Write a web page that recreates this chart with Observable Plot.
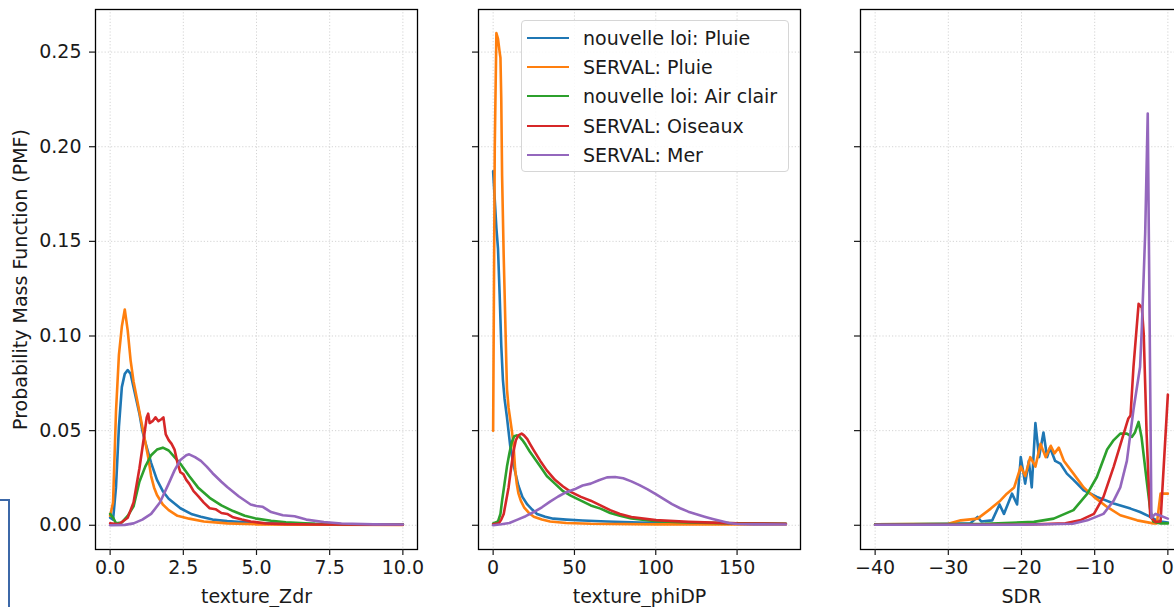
<!DOCTYPE html>
<html><head><meta charset="utf-8">
<script src="https://cdn.jsdelivr.net/npm/d3@7"></script>
<script src="https://cdn.jsdelivr.net/npm/@observablehq/plot@0.6"></script>
<style>
html,body{margin:0;padding:0;background:#fff;overflow:hidden;}
#wrap{position:relative;width:1174px;height:607px;overflow:hidden;font-family:"DejaVu Sans",sans-serif;}
.panel{position:absolute;top:0;}
.panel svg{max-width:none !important;display:block;}
#legend{position:absolute;left:521px;top:20px;width:268px;height:152px;box-sizing:border-box;border:1px solid #d6d6d6;border-radius:4px;background:rgba(255,255,255,0.85);}
.row{position:absolute;left:0;height:28px;font-size:19px;color:#1a1a1a;white-space:nowrap;}
.sw{position:absolute;left:5px;top:13px;width:42px;height:0;border-top:2.6px solid;}
.lab{position:absolute;left:61px;top:2px;line-height:24px;}
#artifact{position:absolute;left:0;top:499px;width:8px;height:130px;border-top:2px solid #3c68a8;border-right:2px solid #3c68a8;}
</style></head><body><div id="wrap"></div>
<script>
// ---------- series names / colours ----------
const seriesNames = ["nouvelle loi: Pluie", "SERVAL: Pluie", "nouvelle loi: Air clair", "SERVAL: Oiseaux", "SERVAL: Mer"];
const seriesColors = ["#1f77b4", "#ff7f0e", "#2ca02c", "#d62728", "#9467bd"];
const yTicks = [0, 0.05, 0.10, 0.15, 0.20, 0.25];
const yLabel = "Probability Mass Function (PMF)";

// ---------- texture_Zdr ----------
const zdrTicks = [0, 2.5, 5, 7.5, 10];
const zdrNouvPluie = [[0,0.004],[0.1,0.003],[0.2,0.02],[0.3,0.052],[0.4,0.073],[0.5,0.08],[0.6,0.082],[0.7,0.08],[0.8,0.073],[0.9,0.066],[1.0,0.059],[1.1,0.05],[1.2,0.044],[1.4,0.033],[1.6,0.024],[1.8,0.018],[2.0,0.014],[2.4,0.009],[2.8,0.0058],[3.1,0.0045],[3.5,0.003],[4,0.0022],[5,0.0012],[6,0.0008],[7,0.0006],[8,0.0005],[10,0.0004]];
const zdrServalPluie = [[0,0.005],[0.1,0.012],[0.2,0.06],[0.3,0.09],[0.4,0.105],[0.5,0.114],[0.6,0.103],[0.7,0.087],[0.8,0.076],[0.9,0.068],[1.0,0.06],[1.1,0.052],[1.2,0.044],[1.3,0.036],[1.4,0.026],[1.5,0.02],[1.6,0.016],[1.8,0.011],[2.0,0.008],[2.3,0.005],[2.7,0.0035],[3.2,0.002],[4,0.001],[5,0.0005],[10,0.0002]];
const zdrNouvAir = [[0,0.006],[0.1,0.004],[0.2,0.001],[0.4,0.0015],[0.6,0.005],[0.8,0.01],[1.0,0.023],[1.2,0.031],[1.4,0.037],[1.6,0.04],[1.8,0.041],[2.0,0.0395],[2.2,0.036],[2.4,0.0325],[2.7,0.026],[3.0,0.02],[3.4,0.0145],[3.8,0.0105],[4.2,0.0075],[4.6,0.005],[5.0,0.0035],[5.5,0.0024],[6.0,0.0016],[7,0.0008],[8,0.0005],[10,0.0004]];
const zdrServalOiseaux = [[0,0.001],[0.3,0.0005],[0.6,0.004],[0.8,0.012],[1.0,0.03],[1.15,0.046],[1.25,0.057],[1.3,0.059],[1.35,0.054],[1.45,0.055],[1.55,0.057],[1.65,0.055],[1.75,0.056],[1.82,0.057],[1.9,0.048],[2.0,0.045],[2.1,0.043],[2.2,0.04],[2.3,0.033],[2.4,0.028],[2.5,0.027],[2.6,0.024],[2.7,0.022],[2.85,0.018],[3.0,0.0155],[3.2,0.012],[3.4,0.009],[3.6,0.0085],[3.8,0.0065],[4.0,0.006],[4.2,0.0042],[4.5,0.003],[4.8,0.002],[5.3,0.001],[6,0.0006],[7,0.0004],[10,0.0003]];
const zdrServalMer = [[0,0],[0.5,0.0002],[0.8,0.001],[1.1,0.003],[1.4,0.006],[1.7,0.012],[2.0,0.022],[2.2,0.029],[2.4,0.0345],[2.6,0.037],[2.7,0.0375],[2.9,0.036],[3.1,0.034],[3.3,0.031],[3.5,0.0275],[3.8,0.023],[4.0,0.0202],[4.4,0.0152],[4.8,0.011],[5.0,0.0102],[5.2,0.0098],[5.5,0.007],[5.9,0.0053],[6.3,0.0048],[6.7,0.003],[7.3,0.0017],[7.9,0.0009],[9,0.0005],[10,0.0004]];

// ---------- texture_phiDP ----------
const phiTicks = [0, 50, 100, 150];
const phiNouvPluie = [[0,0.187],[1,0.172],[2,0.157],[3,0.146],[4,0.122],[5,0.095],[6,0.077],[7,0.067],[8.5,0.057],[10.5,0.042],[12.5,0.032],[15.5,0.021],[18,0.015],[21,0.011],[24,0.0083],[27,0.006],[32,0.0045],[37,0.0035],[45,0.003],[55,0.0025],[70,0.002],[90,0.0015],[120,0.001],[150,0.0008],[180,0.0007]];
const phiServalPluie = [[0,0.05],[1,0.2],[2,0.26],[3,0.257],[4,0.25],[4.5,0.247],[5,0.225],[5.5,0.185],[6.5,0.142],[7.5,0.107],[8.5,0.072],[9.5,0.062],[10.5,0.056],[11.5,0.05],[12.5,0.043],[13.5,0.03],[14.5,0.022],[15.5,0.017],[17,0.013],[19,0.0095],[22,0.0065],[25,0.0045],[30,0.003],[35,0.002],[45,0.0012],[60,0.0008],[100,0.0005],[180,0.0004]];
const phiNouvAir = [[0,0.001],[3,0.002],[4.5,0.006],[5.5,0.013],[7,0.022],[8.5,0.031],[10,0.038],[11.5,0.044],[13,0.047],[14.5,0.0475],[16,0.047],[18,0.045],[20,0.0425],[22.5,0.039],[25,0.036],[29,0.031],[33,0.026],[38,0.022],[43,0.018],[48,0.0155],[54,0.013],[60,0.0105],[66,0.0088],[72,0.0065],[78,0.005],[85,0.0036],[100,0.0022],[120,0.0015],[150,0.001],[180,0.0008]];
const phiServalOiseaux = [[0,0.0005],[3.5,0.001],[5,0.003],[6.5,0.006],[8,0.013],[9.5,0.02],[11,0.03],[12.5,0.039],[14,0.045],[15.5,0.0475],[17.5,0.0484],[19,0.0475],[21,0.0455],[23,0.0425],[25,0.0396],[29,0.034],[33,0.029],[38,0.024],[43,0.0205],[48,0.0175],[54,0.015],[60,0.013],[66,0.0105],[72,0.008],[78,0.006],[85,0.0044],[100,0.0027],[120,0.0018],[150,0.001],[180,0.0008]];
const phiServalMer = [[0,0],[5,0.0005],[10,0.0012],[15,0.003],[20,0.0048],[25,0.007],[30,0.0095],[35,0.0125],[40,0.0152],[45,0.0175],[50,0.019],[55,0.021],[60,0.022],[65,0.0238],[70,0.0253],[75,0.0255],[80,0.0248],[85,0.0232],[90,0.0212],[95,0.019],[100,0.0165],[105,0.0138],[110,0.0112],[115,0.009],[120,0.0072],[125,0.0058],[130,0.0045],[135,0.0033],[140,0.0022],[145,0.0012],[150,0.0007],[160,0.0005],[180,0.0004]];

// ---------- SDR ----------
const sdrTicks = [-40, -30, -20, -10, 0];
const sdrNouvPluie = [[-40,0.0005],[-35,0.0005],[-30,0.0008],[-27,0.001],[-26,0.0044],[-25.5,0.002],[-24,0.0026],[-23,0.011],[-22.4,0.006],[-21.3,0.0167],[-20.6,0.011],[-20.1,0.036],[-19.5,0.022],[-19,0.034],[-18.6,0.02],[-18.1,0.054],[-17.6,0.036],[-17,0.049],[-16.5,0.036],[-16.1,0.041],[-15.4,0.034],[-14.7,0.0326],[-13.8,0.0273],[-12.9,0.024],[-11.5,0.0185],[-9.7,0.015],[-7.4,0.0115],[-5.1,0.0088],[-3.8,0.007],[-2.4,0.0044],[-1.5,0.0026],[-1,0.002],[0,0.0015]];
const sdrServalPluie = [[-40,0.0005],[-30,0.0008],[-28.3,0.0026],[-26,0.0035],[-24.2,0.0088],[-22.9,0.013],[-22,0.0167],[-21,0.02],[-20.1,0.031],[-19.5,0.026],[-18.8,0.036],[-18.1,0.031],[-17.4,0.043],[-16.7,0.036],[-16,0.042],[-15.5,0.038],[-14.9,0.041],[-14.2,0.034],[-12.9,0.0273],[-11.5,0.02],[-10.1,0.015],[-8.3,0.0097],[-6.5,0.0053],[-4.2,0.0026],[-2,0.001],[-1.5,0.001],[-1,0.0167],[0,0.0167]];
const sdrNouvAir = [[-40,0.0005],[-25,0.0008],[-18.3,0.0018],[-15.6,0.0035],[-12.9,0.008],[-11,0.0167],[-9.7,0.0255],[-8.3,0.04],[-7.4,0.045],[-6.5,0.0484],[-5.6,0.0484],[-4.9,0.0467],[-4.5,0.049],[-4,0.0546],[-3.6,0.0467],[-2.9,0.0238],[-2.4,0.008],[-2,0.002],[-1,0.001],[0,0.001]];
const sdrServalOiseaux = [[-40,0.0003],[-20,0.0003],[-14,0.001],[-12,0.0026],[-10.1,0.006],[-8.8,0.015],[-7.4,0.031],[-6.3,0.045],[-5.6,0.054],[-5.4,0.0564],[-5.1,0.058],[-4.7,0.0836],[-4,0.117],[-3.55,0.115],[-3.3,0.101],[-2.9,0.048],[-2.6,0.02],[-2.4,0.0044],[-1.7,0.0018],[-1,0.002],[0,0.069]];
const sdrServalMer = [[-40,0.0003],[-20,0.0003],[-13,0.0008],[-11,0.0026],[-8.8,0.006],[-7.4,0.013],[-6.5,0.02],[-5.6,0.034],[-4.7,0.061],[-3.8,0.0836],[-3.55,0.105],[-3.1,0.154],[-2.75,0.2175],[-2.25,0.004],[-1.7,0.006],[-1,0.005],[0,0.0035]];

// ---------- build ----------
const wrap = document.getElementById("wrap");
const FW = 322, FH = 540, MT = 9, MB = 58, MR = 2;
const grid = {stroke: "#cfcfcf", strokeOpacity: 1, strokeWidth: 0.9, strokeDasharray: "1.2,2"};

function table(list) {
  return list.flatMap((pts, i) => pts.map(([x, y]) => ({x, y, s: seriesNames[i]})));
}

function panel({series, xDomain, xTicks, xFmt, xLabel, showY, left, ml}) {
  const W = ml + FW + MR;
  const chart = Plot.plot({
    width: W, height: MT + FH + MB,
    marginLeft: ml, marginRight: MR, marginTop: MT, marginBottom: MB,
    style: {fontFamily: "DejaVu Sans", fontSize: "19px", background: "transparent", color: "#1a1a1a", overflow: "visible"},
    x: {domain: xDomain, label: null},
    y: {domain: [-0.0128, 0.2725], label: null},
    color: {domain: seriesNames, range: seriesColors},
    marks: [
      Plot.gridX(xTicks, grid),
      Plot.gridY(yTicks, grid),
      Plot.line(table(series), {x: "x", y: "y", z: "s", stroke: "s", strokeWidth: 2.6, strokeLinejoin: "round"}),
      Plot.frame({stroke: "#000", strokeWidth: 1.3}),
      Plot.axisX(xTicks, {tickSize: 6, tickPadding: 5, tickFormat: xFmt, label: null, fontSize: 19, strokeWidth: 1.2}),
      Plot.axisY(yTicks, {tickSize: 6, tickPadding: 8, tickFormat: showY ? d3.format(".2f") : () => "", label: null, fontSize: 19, strokeWidth: 1.2}),
      Plot.text([xLabel], {frameAnchor: "bottom", dy: 47, text: d => d, fontSize: 19, lineAnchor: "middle"}),
      showY ? Plot.text([yLabel], {frameAnchor: "left", dx: -75, rotate: -90, text: d => d, fontSize: 19, textAnchor: "middle", lineAnchor: "middle"}) : null
    ]
  });
  const div = document.createElement("div");
  div.className = "panel";
  div.style.left = left + "px";
  div.style.width = W + "px";
  div.appendChild(chart);
  wrap.appendChild(div);
}

panel({series: [zdrNouvPluie, zdrServalPluie, zdrNouvAir, zdrServalOiseaux, zdrServalMer],
  xDomain: [-0.5, 10.5], xTicks: zdrTicks, xFmt: d3.format(".1f"), xLabel: "texture_Zdr", showY: true, left: 0, ml: 95});
panel({series: [phiNouvPluie, phiServalPluie, phiNouvAir, phiServalOiseaux, phiServalMer],
  xDomain: [-9, 189], xTicks: phiTicks, xFmt: d3.format("d"), xLabel: "texture_phiDP", showY: false, left: 466, ml: 12});
panel({series: [sdrNouvPluie, sdrServalPluie, sdrNouvAir, sdrServalOiseaux, sdrServalMer],
  xDomain: [-42, 2], xTicks: sdrTicks, xFmt: d3.format("d"), xLabel: "SDR", showY: false, left: 848, ml: 12});

// legend
const legend = document.createElement("div");
legend.id = "legend";
seriesNames.forEach((name, i) => {
  const row = document.createElement("div");
  row.className = "row";
  row.style.top = (3 + i * 29.2) + "px";
  row.innerHTML = `<div class="sw" style="border-color:${seriesColors[i]}"></div><div class="lab">${name}</div>`;
  legend.appendChild(row);
});
wrap.appendChild(legend);

const art = document.createElement("div");
art.id = "artifact";
wrap.appendChild(art);
</script>
</body></html>
